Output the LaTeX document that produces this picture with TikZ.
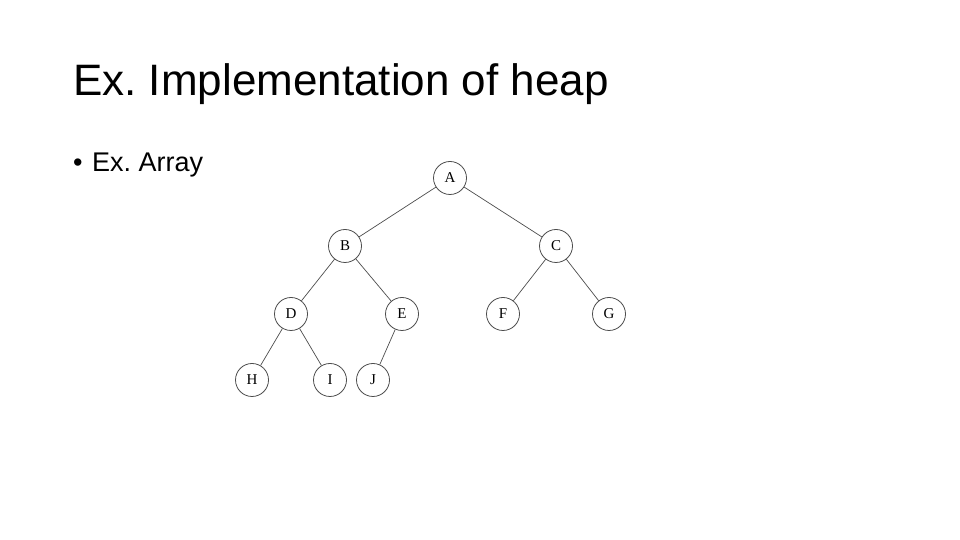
\documentclass[tikz,border=0pt]{standalone}
\usepackage{fontspec}
\setmainfont{Liberation Sans}
\newfontfamily\treefont{Liberation Serif}
\begin{document}
\frenchspacing
\begin{tikzpicture}[x=1pt,y=1pt,
  hnode/.style={circle,draw=black!70,line width=0.8pt,minimum size=33pt,inner sep=0pt,font=\treefont\fontsize{15}{15}\selectfont},
  edge/.style={draw=black!70,line width=0.7pt}]
\useasboundingbox (0,0) rectangle (960,540);
\node[anchor=base west,inner sep=0pt,font=\fontsize{44}{48}\selectfont] (title) at (73,444) {Ex. Implementation of heap};
\node[anchor=base west,inner sep=0pt,font=\fontsize{27}{30}\selectfont] (bul) at (73,368) {\textbullet\hspace{2pt} Ex. Array};
\node[hnode] (A) at (450,362) {A};
\node[hnode] (B) at (345,294) {B};
\node[hnode] (C) at (556,294) {C};
\node[hnode] (D) at (291,226) {D};
\node[hnode] (E) at (402,226) {E};
\node[hnode] (F) at (503,226) {F};
\node[hnode] (G) at (609,226) {G};
\node[hnode] (H) at (252,160) {H};
\node[hnode] (I) at (330,160) {I};
\node[hnode] (J) at (373,160) {J};
\draw[edge] (A) -- (B);
\draw[edge] (A) -- (C);
\draw[edge] (B) -- (D);
\draw[edge] (B) -- (E);
\draw[edge] (C) -- (F);
\draw[edge] (C) -- (G);
\draw[edge] (D) -- (H);
\draw[edge] (D) -- (I);
\draw[edge] (E) -- (J);
\end{tikzpicture}
\end{document}
